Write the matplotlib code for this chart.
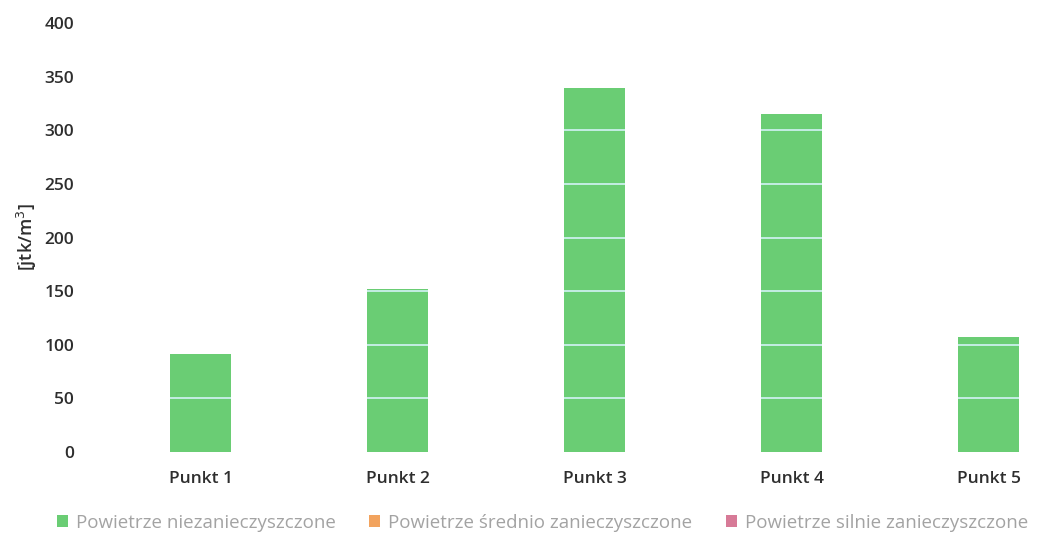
import matplotlib
matplotlib.use("Agg")
import matplotlib.pyplot as plt

categories = ["Punkt 1", "Punkt 2", "Punkt 3", "Punkt 4", "Punkt 5"]
clean = [91, 152, 339, 315, 107]
medium = [0, 0, 0, 0, 0]
heavy = [0, 0, 0, 0, 0]
series_names = ["Powietrze niezanieczyszczone",
                "Powietrze średnio zanieczyszczone",
                "Powietrze silnie zanieczyszczone"]
yticks = [0, 50, 100, 150, 200, 250, 300, 350, 400]

GREEN = "#6acd74"
ORANGE = "#f2a35e"
PINK = "#d77a97"
W = 0.31

plt.rcParams['font.family'] = ['Open Sans', 'DejaVu Sans']

fig = plt.figure(figsize=(10.53, 5.42), dpi=100, facecolor="white")
ax = fig.add_axes([102 / 1053, 90 / 542, 948 / 1053, 429 / 542])

x = list(range(len(categories)))
b1 = ax.bar(x, clean, width=W, color=GREEN, zorder=2, label=series_names[0])
b2 = ax.bar(x, medium, width=W, bottom=clean, color=ORANGE, zorder=2, label=series_names[1])
b3 = ax.bar(x, heavy, width=W, bottom=[c + m for c, m in zip(clean, medium)],
            color=PINK, zorder=2, label=series_names[2])

# gridlines only show through the bars in the scan (white background hides them)
for xi, h in zip(x, clean):
    lv = [t for t in yticks[1:] if t < h]
    ax.hlines(lv, xi - W / 2, xi + W / 2, color="#c4ede4", lw=1.4, zorder=3)

ax.set_xlim(-0.5, 4.31)
ax.set_ylim(0, 400)
ax.set_yticks(yticks)
ax.set_xticks(x)
ax.set_xticklabels(categories, fontsize=12.5, color="#2e2e2e", fontweight="semibold")
ax.set_yticklabels([str(t) for t in yticks], fontsize=12.5, color="#2e2e2e", fontweight="semibold")
ax.tick_params(axis="y", length=0, pad=20)
ax.tick_params(axis="x", length=0, pad=14)
for s in ax.spines.values():
    s.set_visible(False)

ax.set_ylabel("[jtk/m$^3$]", fontsize=13, color="#2e2e2e", fontweight="semibold", labelpad=4)

leg = fig.legend(handles=[b1, b2, b3], loc="center", bbox_to_anchor=(0.515, 0.035),
                 ncol=3, frameon=False, fontsize=13.5, handlelength=0.6, handleheight=0.6,
                 handletextpad=0.4, columnspacing=1.8)
for t in leg.get_texts():
    t.set_color("#a3a3a3")

fig.savefig("out.png", dpi=100, facecolor="white")
